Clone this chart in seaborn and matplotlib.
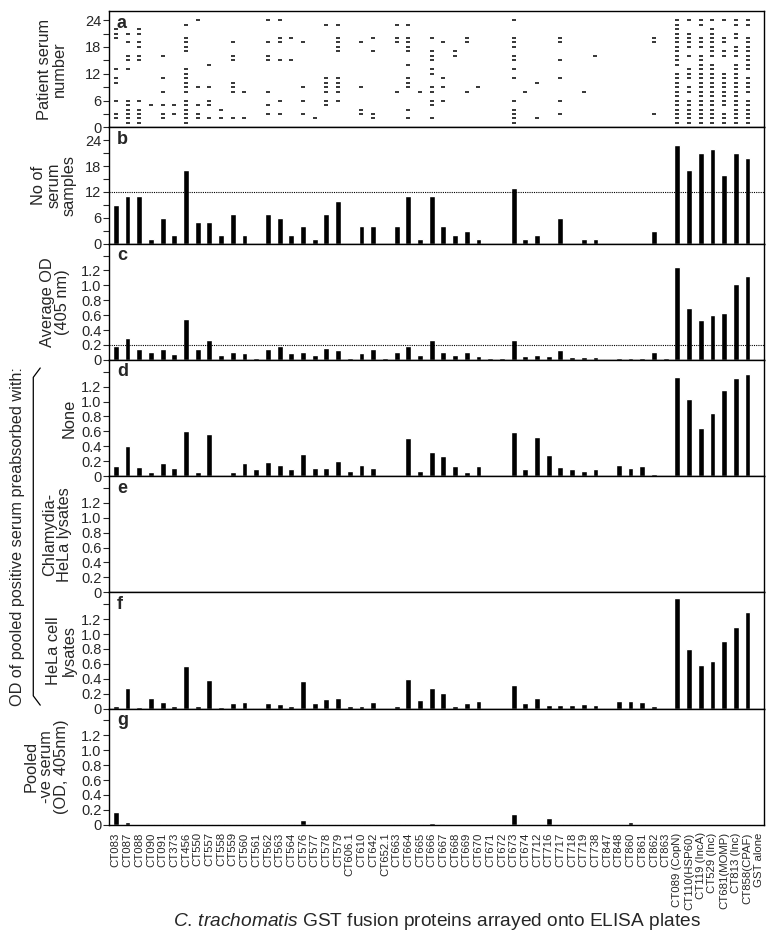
import numpy as np
import pandas as pd
import matplotlib
matplotlib.use('Agg')
import matplotlib.pyplot as plt
import seaborn as sns
from matplotlib.lines import Line2D

# Proteins arrayed on the plates
proteins = ['CT083', 'CT087', 'CT088', 'CT090', 'CT091', 'CT373', 'CT456', 'CT550',
            'CT557', 'CT558', 'CT559', 'CT560', 'CT561', 'CT562', 'CT563', 'CT564',
            'CT576', 'CT577', 'CT578', 'CT579', 'CT606.1', 'CT610', 'CT642', 'CT652.1',
            'CT663', 'CT664', 'CT665', 'CT666', 'CT667', 'CT668', 'CT669', 'CT670',
            'CT671', 'CT672', 'CT673', 'CT674', 'CT712', 'CT716', 'CT717', 'CT718',
            'CT719', 'CT738', 'CT847', 'CT848', 'CT860', 'CT861', 'CT862', 'CT863',
            'CT089 (CopN)', 'CT110(HSP60)', 'CT119 (IncA)', 'CT529 (Inc)',
            'CT681(MOMP)', 'CT813 (Inc)', 'CT858(CPAF)', 'GST alone']

# a: patient sera that reacted with each protein
positive_sera = [
    [22, 21, 20, 13, 11, 10, 6, 3, 2],
    [21, 19, 16, 15, 13, 6, 5, 4, 3, 2, 1],
    [22, 21, 19, 18, 16, 15, 6, 4, 3, 2, 1],
    [5],
    [16, 11, 8, 5, 3, 2],
    [5, 3],
    [23, 20, 19, 18, 17, 13, 12, 11, 10, 9, 8, 6, 5, 4, 3, 2, 1],
    [24, 9, 5, 3, 2],
    [14, 9, 6, 5, 2],
    [4, 2],
    [19, 16, 15, 10, 9, 8, 2],
    [8, 2],
    [],
    [24, 19, 16, 15, 8, 5, 3],
    [24, 20, 19, 15, 6, 3],
    [20, 15],
    [19, 9, 6, 3],
    [2],
    [23, 11, 10, 9, 8, 6, 5],
    [23, 20, 19, 18, 17, 11, 10, 9, 8, 6],
    [],
    [19, 9, 4, 3],
    [20, 17, 3, 2],
    [],
    [23, 20, 19, 8],
    [23, 20, 19, 18, 17, 14, 11, 10, 9, 4, 2],
    [8],
    [20, 17, 16, 15, 13, 12, 9, 8, 6, 5, 2],
    [19, 11, 9, 6],
    [17, 16],
    [20, 19, 8],
    [9],
    [],
    [],
    [24, 20, 19, 18, 16, 15, 13, 11, 6, 4, 3, 2, 1],
    [8],
    [10, 2],
    [],
    [20, 19, 15, 11, 6, 3],
    [],
    [8],
    [16],
    [],
    [],
    [],
    [],
    [20, 19, 3],
    [],
    [24, 23, 22, 21, 20, 19, 18, 17, 16, 15, 14, 12, 11, 10, 9, 8, 7, 6, 5, 4, 3, 2, 1],
    [24, 21, 20, 19, 18, 16, 13, 12, 11, 9, 8, 6, 5, 4, 3, 2, 1],
    [24, 23, 20, 19, 18, 16, 15, 14, 13, 12, 11, 10, 9, 8, 7, 6, 5, 4, 3, 2, 1],
    [24, 22, 21, 20, 19, 18, 17, 16, 14, 13, 12, 11, 10, 9, 8, 7, 6, 5, 4, 3, 2, 1],
    [24, 20, 19, 17, 16, 12, 11, 10, 9, 8, 7, 6, 5, 3, 2, 1],
    [24, 23, 21, 20, 18, 17, 16, 14, 13, 12, 11, 10, 9, 8, 7, 6, 5, 4, 3, 2, 1],
    [24, 23, 20, 19, 18, 17, 16, 15, 14, 13, 11, 10, 9, 8, 6, 5, 4, 3, 2, 1],
    [],
]

# b: number of positive serum samples
serum_count = [9, 11, 11, 1, 6, 2, 17, 5, 5, 2, 7, 2, 0, 7, 6, 2, 4, 1, 7, 10, 0, 4, 4, 0,
               4, 11, 1, 11, 4, 2, 3, 1, 0, 0, 13, 1, 2, 0, 6, 0, 1, 1, 0, 0, 0, 0, 3, 0,
               23, 17, 21, 22, 16, 21, 20, 0]

# c: average OD (405 nm)
avg_od = [0.18, 0.30, 0.15, 0.10, 0.15, 0.08, 0.55, 0.14, 0.26, 0.06, 0.11, 0.09, 0.03, 0.14,
          0.19, 0.09, 0.11, 0.07, 0.16, 0.13, 0.03, 0.09, 0.14, 0.03, 0.11, 0.18, 0.06, 0.26,
          0.11, 0.07, 0.11, 0.05, 0.02, 0.02, 0.26, 0.05, 0.07, 0.05, 0.13, 0.04, 0.04, 0.04,
          0.01, 0.03, 0.03, 0.03, 0.11, 0.02, 1.24, 0.70, 0.54, 0.60, 0.63, 1.02, 1.12, 0.0]

# d: pooled positive serum, not preabsorbed
od_none = [0.14, 0.40, 0.12, 0.05, 0.17, 0.11, 0.61, 0.06, 0.57, 0.02, 0.05, 0.18, 0.10, 0.19,
           0.15, 0.09, 0.29, 0.11, 0.11, 0.20, 0.07, 0.15, 0.11, 0.0, 0.0, 0.51, 0.07, 0.32,
           0.27, 0.13, 0.06, 0.13, 0.0, 0.0, 0.59, 0.09, 0.53, 0.28, 0.12, 0.10, 0.07, 0.10,
           0.0, 0.15, 0.11, 0.13, 0.03, 0.0, 1.33, 1.03, 0.65, 0.85, 1.15, 1.32, 1.37, 0.0]

# e: preabsorbed with Chlamydia-HeLa lysates (no signal)
od_chl_hela = [0.0] * 56

# f: preabsorbed with HeLa cell lysates
od_hela = [0.04, 0.28, 0.02, 0.14, 0.09, 0.04, 0.57, 0.03, 0.38, 0.02, 0.08, 0.09, 0.01, 0.08,
           0.06, 0.03, 0.37, 0.08, 0.13, 0.14, 0.04, 0.04, 0.09, 0.0, 0.03, 0.39, 0.12, 0.28,
           0.21, 0.04, 0.08, 0.10, 0.0, 0.0, 0.31, 0.08, 0.14, 0.05, 0.05, 0.05, 0.06, 0.05,
           0.01, 0.10, 0.10, 0.09, 0.03, 0.0, 1.48, 0.80, 0.59, 0.64, 0.91, 1.09, 1.29, 0.0]

# g: pooled negative serum
od_neg = [0.17, 0.04, 0.0, 0.005, 0.01, 0.005, 0.005, 0.005, 0.005, 0.005, 0.01, 0.005, 0.01,
          0.005, 0.01, 0.005, 0.06, 0.005, 0.005, 0.005, 0.005, 0.01, 0.01, 0.0, 0.005, 0.01,
          0.005, 0.02, 0.005, 0.0, 0.0, 0.0, 0.015, 0.005, 0.14, 0.005, 0.0, 0.09, 0.01, 0.005,
          0.005, 0.005, 0.0, 0.005, 0.03, 0.01, 0.0, 0.0, 0.01, 0.0, 0.0, 0.0, 0.0, 0.0, 0.01, 0.0]

count_cutoff = 12
od_cutoff = 0.2

# Style
sns.set_style('ticks')
plt.rcParams['font.family'] = ['Liberation Sans', 'DejaVu Sans']
plt.rcParams['mathtext.fontset'] = 'custom'
plt.rcParams['mathtext.it'] = 'Liberation Sans:italic'
plt.rcParams['mathtext.rm'] = 'Liberation Sans'
plt.rcParams['axes.linewidth'] = 1.0

fig, axes = plt.subplots(7, 1, figsize=(7.74, 9.34), dpi=100)
fig.subplots_adjust(left=0.141, right=0.987, top=0.988, bottom=0.117, hspace=0)

xlim = (-0.57, 55.4)
od_ticks = [0, 0.2, 0.4, 0.6, 0.8, 1.0, 1.2, 1.4]
od_labels = ['0', '0.2', '0.4', '0.6', '0.8', '1.0', '1.2', '']
count_ticks = [0, 3, 6, 9, 12, 15, 18, 21, 24]
count_labels = ['0', '', '6', '', '12', '', '18', '', '24']

# a. dot plot of reacting sera
dots = pd.DataFrame([(i, s) for i, sera in enumerate(positive_sera) for s in sera],
                    columns=['protein', 'serum'])
ax = axes[0]
sns.scatterplot(data=dots, x='protein', y='serum', marker='_', color='black',
                s=9, linewidth=1.1, ax=ax, legend=False)
ax.set_ylim(0, 26)
ax.set_yticks(count_ticks, count_labels)
ax.set_ylabel('Patient serum\nnumber')

# b-g. bar panels
bar_panels = [
    (axes[1], serum_count, 'No of\nserum\nsamples'),
    (axes[2], avg_od, 'Average OD\n(405 nm)'),
    (axes[3], od_none, 'None'),
    (axes[4], od_chl_hela, 'Chlamydia-\nHeLa lysates'),
    (axes[5], od_hela, 'HeLa cell\nlysates'),
    (axes[6], od_neg, 'Pooled\n-ve serum\n(OD, 405nm)'),
]
for ax, values, label in bar_panels:
    sns.barplot(x=proteins, y=values, ax=ax, color='black', saturation=1,
                width=0.5, errorbar=None)
    ax.set_ylabel(label)
    if values is serum_count:
        ax.set_ylim(0, 27)
        ax.set_yticks(count_ticks, count_labels)
        ax.axhline(count_cutoff, color='black', linestyle=(0, (1, 1)), linewidth=0.8)
    else:
        ax.set_ylim(0, 1.56)
        ax.set_yticks(od_ticks, od_labels)
    if values is avg_od:
        ax.axhline(od_cutoff, color='black', linestyle=(0, (1, 1)), linewidth=0.8)

letters = ['a', 'b', 'c', 'd', 'e', 'f', 'g']
label_x = [-0.064, -0.050, -0.060, -0.050, -0.056, -0.050, -0.062]
for ax, letter, lx in zip(axes, letters, label_x):
    ax.set_xlim(*xlim)
    ax.set_xlabel('')
    for side in ['top', 'right', 'left', 'bottom']:
        ax.spines[side].set_visible(True)
        ax.spines[side].set_color('black')
    ax.tick_params(axis='y', direction='out', length=4, width=0.8, labelsize=10.5, pad=1.5)
    ax.tick_params(axis='x', bottom=False, labelbottom=False)
    ax.yaxis.label.set_size(11.8)
    ax.yaxis.label.set_linespacing(1.0)
    ax.yaxis.set_label_coords(lx, 0.5)
    ax.text(0.012, 0.97, letter, transform=ax.transAxes, ha='left', va='top',
            fontsize=13, fontweight='bold')

# x labels on bottom panel only
axes[6].tick_params(axis='x', bottom=False, labelbottom=True, labelsize=8.2, pad=2)
axes[6].set_xticks(range(len(proteins)), proteins, rotation=90)
axes[6].set_xlabel(r'$\it{C.\,trachomatis}$ GST fusion proteins arrayed onto ELISA plates',
                   fontsize=13.8, labelpad=1)

# bracket over d-f
fig.add_artist(Line2D([0.052, 0.043, 0.043, 0.052], [0.606, 0.596, 0.255, 0.245],
                      transform=fig.transFigure, color='black', linewidth=0.9))
fig.text(0.022, 0.425, 'OD of pooled positive serum preabsorbed with:', rotation=90,
         ha='center', va='center', fontsize=11.7)

plt.savefig('out.png', dpi=100)
